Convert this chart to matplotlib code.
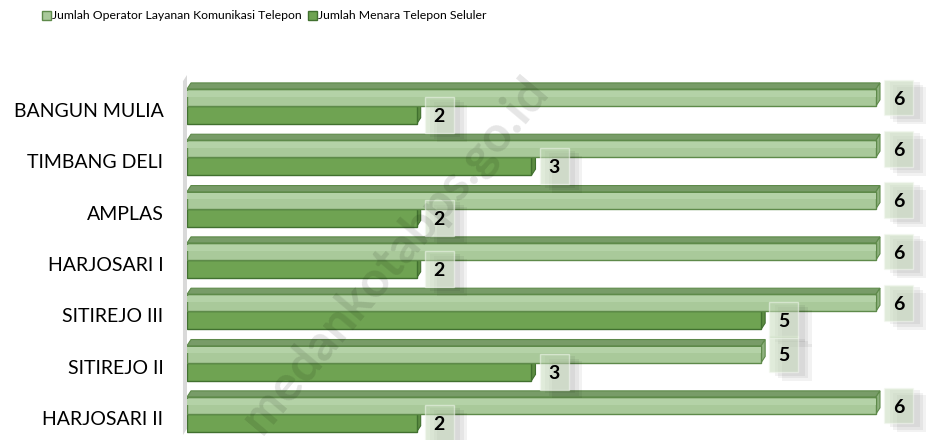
import numpy as np
import matplotlib.pyplot as plt
from matplotlib.patches import Polygon, Rectangle

kelurahan = ['BANGUN MULIA', 'TIMBANG DELI', 'AMPLAS', 'HARJOSARI I',
             'SITIREJO III', 'SITIREJO II', 'HARJOSARI II']
operator = [6, 6, 6, 6, 6, 5, 6]
menara = [2, 3, 2, 2, 5, 3, 2]
seri = ['Jumlah Operator Layanan Komunikasi Telepon', 'Jumlah Menara Telepon Seluler']

plt.rcParams['font.family'] = ['Lato', 'DejaVu Sans']

W, H = 926, 440
fig = plt.figure(figsize=(W / 100, H / 100), dpi=100)
ax = fig.add_axes([187 / W, 1 - 435 / H, (915 - 187) / W, 360 / H])
ax.set_xlim(0, 6.34)
ax.set_ylim(6.41, -0.604)

c_light, e_light, top_light = '#a9c99a', '#5e8a4a', '#789c68'
c_dark, e_dark = '#6fa352', '#41702f'
h1, h2 = 0.33, 0.35
dx, dy = 0.035, 0.12
y = np.arange(len(kelurahan))

# dinding kiri
ax.add_patch(Polygon([(-dx, 6.41), (0, 6.41 - dy), (0, -0.604), (-dx, -0.604 + dy)],
                     closed=True, fc='#d9d9d9', ec='none', clip_on=False, zorder=1))

# ujung batang gelap (di belakang batang terang)
for i, v in zip(y, menara):
    ax.add_patch(Polygon([(v, i), (v, i + h2), (v + dx, i + h2 - dy), (v + dx, i - dy)],
                         closed=True, fc='#5c8c42', ec=e_dark, lw=0.8, zorder=2))
ax.barh(y + h2 / 2, menara, height=h2, color=c_dark, edgecolor=e_dark, lw=1, zorder=3)

for i, v in zip(y, operator):
    ax.add_patch(Polygon([(0, i - h1), (v, i - h1), (v + dx, i - h1 - dy), (dx, i - h1 - dy)],
                         closed=True, fc=top_light, ec=e_light, lw=0.8, zorder=4))
    ax.add_patch(Polygon([(v, i - h1), (v, i), (v + dx, i - dy), (v + dx, i - h1 - dy)],
                         closed=True, fc='#8fb27f', ec=e_light, lw=0.8, zorder=4))
ax.barh(y - h1 / 2, operator, height=h1, color=c_light, edgecolor=e_light, lw=1, zorder=5)
# kilau tipis
ax.barh(y - h1 * 0.72, operator, height=h1 * 0.35, color='#b4d2a7', lw=0, zorder=5)


def label(v, yc):
    x0 = v + 0.07
    for k, a in enumerate([0.05, 0.05, 0.05]):
        ax.add_patch(Rectangle((x0 + 0.05 + 0.03 * k, yc - 0.3 + 0.05 * k), 0.26, 0.72,
                               fc='black', ec='none', alpha=a, zorder=6, clip_on=False))
    ax.add_patch(Rectangle((x0, yc - 0.35), 0.253, 0.70, fc='#c8dcbd', ec='#f4f8f1',
                           lw=1, alpha=0.55, zorder=7, clip_on=False))
    ax.text(x0 + 0.127, yc + 0.03, str(v), ha='center', va='center', fontsize=14,
            fontweight='bold', color='black', zorder=8)


for i, v in zip(y, operator):
    label(v, i - h1 / 2)
for i, v in zip(y, menara):
    label(v, i + h2 / 2)

ax.set_yticks(y + 0.08)
ax.set_yticklabels(kelurahan, fontsize=14)
ax.tick_params(axis='y', length=0, pad=17)
ax.set_xticks([])
for s in ax.spines.values():
    s.set_visible(False)

# legenda
for x0, c, e, t in [(42, c_light, e_light, seri[0]), (308, c_dark, e_dark, seri[1])]:
    fig.patches.append(Rectangle((x0 / W, 1 - 20 / H), 9 / W, 9 / H, fc=c, ec=e, lw=1,
                                 transform=fig.transFigure, figure=fig))
    fig.text((x0 + 10) / W, 1 - 15.5 / H, t, fontsize=8.8, va='center', ha='left')

fig.text(395 / W, 1 - 255 / H, 'medankotabps.go.id', rotation=50, fontsize=36,
         fontweight='bold', color='black', alpha=0.1, ha='center', va='center',
         rotation_mode='anchor', zorder=20)

fig.savefig('out.png', dpi=100)
